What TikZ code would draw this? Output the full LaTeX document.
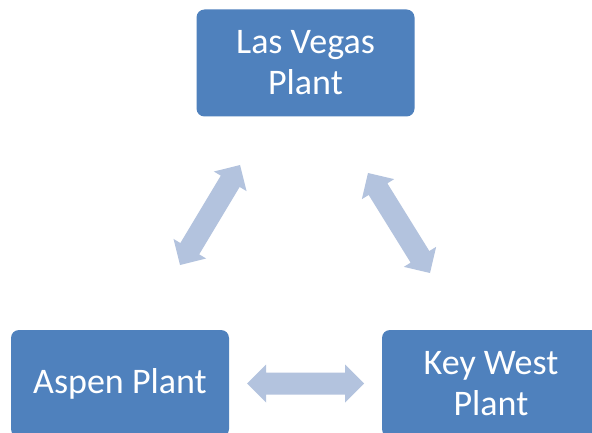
\documentclass[tikz,border=0pt]{standalone}
\usepackage{fontspec}
\setmainfont{Carlito}
\usetikzlibrary{calc}
\definecolor{boxblue}{HTML}{4F81BD}
\definecolor{arrowblue}{HTML}{B3C3DE}
\tikzset{
  plantbox/.style={rectangle, rounded corners=8pt, fill=boxblue, text=white,
    minimum width=218pt, minimum height=107pt, inner sep=0pt, align=center,
    font=\fontsize{36}{41}\selectfont},
  arrowfill/.style={fill=arrowblue}
}
\newcommand\blockarrow[2]{%
  \fill[arrowfill] (#1)
    -- ($(#1)!19pt!(#2)!19pt!90:(#2)$)
    -- ($(#1)!19pt!(#2)!11pt!90:(#2)$)
    -- ($(#2)!19pt!(#1)!11pt!-90:(#1)$)
    -- ($(#2)!19pt!(#1)!19pt!-90:(#1)$)
    -- (#2)
    -- ($(#2)!19pt!(#1)!19pt!90:(#1)$)
    -- ($(#2)!19pt!(#1)!11pt!90:(#1)$)
    -- ($(#1)!19pt!(#2)!11pt!-90:(#2)$)
    -- ($(#1)!19pt!(#2)!19pt!-90:(#2)$)
    -- cycle;}
\begin{document}
\begin{tikzpicture}[x=1pt, y=-1pt]
  \useasboundingbox (0,0) rectangle (592,433);
  \clip (0,0) rectangle (592,433);
  \fill[white] (0,0) rectangle (592,433);
  \node[plantbox] (lv) at (305.5,63) {Las Vegas\\Plant};
  \node[plantbox] (asp) at (120,383.5) {Aspen Plant};
  \node[plantbox] (kw) at (491,383.5) {Key West\\Plant};
  \coordinate (l1) at (180,265);
  \coordinate (l2) at (240,165);
  \coordinate (r1) at (368,173);
  \coordinate (r2) at (430,273);
  \coordinate (h1) at (247,383.5);
  \coordinate (h2) at (364,383.5);
  \blockarrow{l1}{l2}
  \blockarrow{r1}{r2}
  \blockarrow{h1}{h2}
\end{tikzpicture}
\end{document}
